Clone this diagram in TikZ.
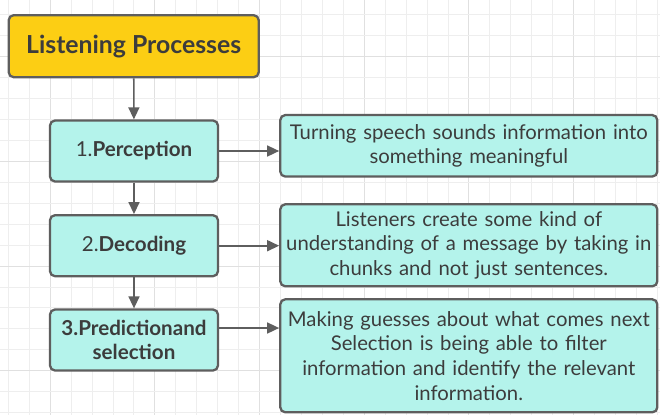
\documentclass[tikz,border=0pt]{standalone}
\usepackage{fontspec}
\setmainfont{Lato}
\usetikzlibrary{arrows.meta}
\definecolor{gold}{HTML}{FCCE14}
\definecolor{tealfill}{HTML}{B4F3EB}
\definecolor{edgecol}{HTML}{5E5E5E}
\definecolor{txtcol}{HTML}{3C3C3C}
\definecolor{gridminor}{HTML}{EEEEEE}
\definecolor{gridmajor}{HTML}{E0E0E0}
\begin{document}
\begin{tikzpicture}[x=1bp,y=-1bp,
  box/.style={draw=edgecol, line width=2.3bp, rounded corners=5bp, inner sep=0pt,
    align=center, text=txtcol},
  titlebox/.style={box, fill=gold, minimum width=250bp, minimum height=62bp,
    font=\fontsize{24.8bp}{28bp}\selectfont\bfseries},
  stepbox/.style={box, fill=tealfill, minimum width=168bp, minimum height=61bp,
    font=\fontsize{20.6bp}{24.5bp}\selectfont},
  infobox/.style={box, fill=tealfill, text width=376bp, minimum width=377bp,
    font=\fontsize{20.3bp}{24.7bp}\selectfont},
  arr/.style={draw=edgecol, line width=1.6bp, -{Triangle[length=12bp,width=11bp]}}
]
\useasboundingbox (0,0) rectangle (660,415);
\fill[white] (0,0) rectangle (660,415);
% grid
\foreach \i in {0,...,31} {
  \pgfmathsetmacro{\gx}{8.3+20.94*\i}
  \pgfmathtruncatemacro{\m}{mod(\i,5)==2}
  \ifnum\m=1 \draw[gridmajor, line width=1bp] (\gx,0) -- (\gx,415);
  \else \draw[gridminor, line width=1bp] (\gx,0) -- (\gx,415); \fi
}
\foreach \i in {0,...,19} {
  \pgfmathsetmacro{\gy}{14.8+20.94*\i}
  \pgfmathtruncatemacro{\m}{mod(\i,5)==2}
  \ifnum\m=1 \draw[gridmajor, line width=1bp] (0,\gy) -- (660,\gy);
  \else \draw[gridminor, line width=1bp] (0,\gy) -- (660,\gy); \fi
}
% nodes
\node[titlebox] (title) at (133.7,46.2) {Listening Processes};
\node[stepbox] (perc) at (134,151) {1.\textbf{Perception}};
\node[stepbox] (deco) at (134,245.7) {2.\textbf{Decoding}};
\node[stepbox] (pred) at (134,340) {\textbf{3.Predictionand}\\\textbf{selection}};
\node[infobox, minimum height=61.5bp] (ia) at (468.8,145.8)
  {Turning speech sounds information into\\something meaningful};
\node[infobox, minimum height=82bp] (ib) at (468.8,245.3)
  {Listeners create some kind of\\understanding of a message by taking in\\chunks and not just sentences.};
\node[infobox, minimum height=113bp] (ic) at (468.8,355.8)
  {Making guesses about what comes next\\Selection is being able to filter\\information and identify the relevant\\information.};
% connectors
\draw[arr] (title) -- (perc);
\draw[arr] (perc) -- (deco);
\draw[arr] (deco) -- (pred);
\draw[arr] (perc.east) -- (perc.east -| ia.west);
\draw[arr] (deco.east) -- (deco.east -| ib.west);
\coordinate (c3) at ([yshift=12bp]pred.east);
\draw[arr] (c3) -- (c3 -| ic.west);
\end{tikzpicture}
\end{document}
